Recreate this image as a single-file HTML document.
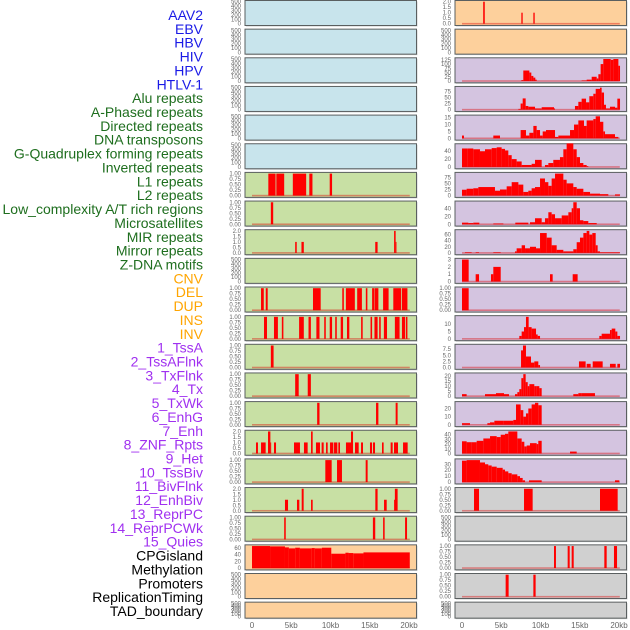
<!DOCTYPE html>
<html><head><meta charset="utf-8"><style>
html,body{margin:0;padding:0;background:#fff;}
svg{display:block;font-family:"Liberation Sans",sans-serif;}
</style></head><body>
<svg id="chart" width="630" height="630" viewBox="0 0 630 630"></svg>
<script>
// ---- track labels ----
const trackLabels = ["AAV2","EBV","HBV","HIV","HPV","HTLV-1","Alu repeats","A-Phased repeats","Directed repeats","DNA transposons","G-Quadruplex forming repeats","Inverted repeats","L1 repeats","L2 repeats","Low_complexity A/T rich regions","Microsatellites","MIR repeats","Mirror repeats","Z-DNA motifs","CNV","DEL","DUP","INS","INV","1_TssA","2_TssAFlnk","3_TxFlnk","4_Tx","5_TxWk","6_EnhG","7_Enh","8_ZNF_Rpts","9_Het","10_TssBiv","11_BivFlnk","12_EnhBiv","13_ReprPC","14_ReprPCWk","15_Quies","CPGisland","Methylation","Promoters","ReplicationTiming","TAD_boundary"];
const labelGroups = ["v","v","v","v","v","v","r","r","r","r","r","r","r","r","r","r","r","r","r","s","s","s","s","s","c","c","c","c","c","c","c","c","c","c","c","c","c","c","c","k","k","k","k","k"];
const xTickValues = [0,5,10,15,20];
const xTickLabels = ["0","5kb","10kb","15kb","20kb"];
const emptyTicks = [0,100,200,300,400,500];
const binTicks = [0,0.25,0.5,0.75,1];
const twoTicks = [0,0.5,1,1.5,2];

// left column data [startKb, endKb, value]
const L6 = [[2.08,3.0,1],[3.1,4.1,1],[5.2,6.9,1],[7.3,7.7,1],[9.9,10.2,1]];
const L7 = [[2.4,2.7,1]];
const L8 = [[5.5,5.7,1],[6.3,6.6,1],[15.7,16.0,1],[18.1,18.3,2],[18.3,18.4,1]];
const L10 = [[1.15,1.5,1],[1.75,2.0,1],[7.77,8.75,1],[11.5,11.7,1],[11.96,13.1,1],[13.4,14.0,1],[14.5,14.7,1],[15.3,15.55,1],[15.6,16.1,1],[16.7,17.4,1],[18.0,19.0,1],[19.1,19.8,1]];
const L11 = [[1.53,1.91,1],[2.8,3.3,1],[3.8,4.0,1],[6.0,6.6,1],[7.2,7.5,1],[8.2,8.6,1],[9.2,9.4,1],[9.9,10.2,1],[10.6,10.8,1],[11.3,11.6,1],[12.1,12.4,1],[13.9,14.1,1],[15.1,15.3,1],[15.6,16.0,1],[16.2,16.4,1],[16.8,17.2,1],[18.2,18.8,1],[19.1,19.5,1],[19.6,19.8,1]];
const L12 = [[2.4,2.75,1]];
const L13 = [[5.5,5.95,1],[7.1,7.5,1]];
const L14 = [[8.3,8.6,1],[15.8,16.1,1],[18.3,18.55,1]];
const L15 = [[0.51,0.76,1],[1.15,1.74,1],[2.04,2.34,2],[2.34,2.42,1],[2.8,3.06,1],[5.35,6.11,1],[6.62,7.09,1],[7.52,7.73,2],[8.15,8.66,1],[8.87,9.13,1],[9.43,9.64,1],[9.94,10.36,1],[10.45,10.87,1],[11.0,11.21,1],[11.97,12.61,1],[12.61,12.87,2],[13.12,13.59,1],[13.89,14.14,1],[15.03,15.29,1],[15.41,15.67,1],[16.56,16.77,1],[17.66,17.92,1],[18.09,18.6,1],[19.24,19.83,1]];
const L16 = [[9.34,10.15,1],[10.83,11.46,1],[14.48,14.73,1]];
const L17 = [[4.2,4.59,1],[5.73,6.03,1],[6.33,6.58,2],[7.52,7.73,1],[15.71,16.0,2],[16.82,17.16,1],[18.09,18.2,1],[18.2,18.55,2]];
const L18 = [[4.1,4.3,1],[15.4,15.7,1],[16.7,16.9,1],[19.5,19.75,1]];
const L19 = [[0,2.3,66],[2.3,4.2,65],[4.2,4.7,62],[4.7,5.5,59],[5.5,6.1,61],[6.1,7.6,59],[7.6,8.0,60],[8.0,8.9,59],[8.9,10.1,61],[10.1,11.9,43],[11.9,12.3,46],[12.3,12.9,45],[12.9,14.2,44],[14.2,20.1,47]];

// right column data
const R0 = [[2.7,2.9,2],[7.56,7.73,1],[9.09,9.26,1]];
const R2 = [[7.56,7.81,5],[7.81,8.58,62],[8.58,8.83,50],[8.83,9.09,30],[9.09,9.34,20],[9.34,9.51,8],[15.24,15.88,3],[15.88,16.52,8],[16.52,17.16,25],[17.16,17.37,15],[17.37,17.66,40],[17.66,18.0,100],[18.0,18.94,130],[18.94,19.28,125],[19.28,19.92,130],[19.92,20.13,90]];
const R3 = [[7.18,7.47,3],[7.47,7.73,25],[7.73,8.11,46],[8.11,8.45,15],[8.45,9.3,12],[9.3,10.15,5],[10.15,11.72,10],[11.72,11.85,5],[14.39,14.82,15],[14.82,15.24,32],[15.24,15.8,45],[15.8,16.22,30],[16.22,16.73,55],[16.73,17.03,65],[17.03,17.58,85],[17.58,17.79,90],[17.79,18.09,70],[18.09,18.34,20],[18.34,18.85,5],[18.85,19.49,12],[19.49,19.79,8],[19.79,20.13,45]];
const R4 = [[0,0.25,2],[3.99,4.84,2],[7.47,8.15,6],[8.15,8.58,2],[8.58,9.09,4],[9.09,9.51,9],[9.51,9.94,6],[9.94,10.28,2],[10.28,10.7,5],[10.7,11.85,6],[11.85,12.27,1],[12.27,13.76,2],[13.76,14.27,6],[14.27,14.82,10],[14.82,15.54,13],[15.54,15.88,9],[15.88,16.73,13],[16.73,17.03,14],[17.03,17.58,16],[17.58,18.0,12],[18.0,18.22,5],[18.22,19.49,3],[19.49,19.92,1]];
const R5 = [[0,0.68,47],[0.68,1.44,47],[1.44,2.29,45],[2.29,2.93,40],[2.93,3.78,45],[3.78,4.42,48],[4.42,5.05,50],[5.05,5.48,46],[5.48,5.9,42],[5.9,6.33,30],[6.33,6.96,20],[6.96,7.6,14],[7.6,8.87,5],[8.87,9.3,8],[9.3,10.15,18],[10.57,11.0,5],[11.0,11.63,10],[11.63,12.48,18],[12.48,12.91,25],[12.91,13.33,45],[13.33,14.18,60],[14.18,14.61,45],[14.61,15.03,25],[15.03,15.46,10],[15.46,15.88,5],[15.88,16.09,2]];
const R6 = [[0,0.59,24],[0.59,1.44,28],[1.44,2.08,30],[2.08,4.2,35],[4.2,4.84,20],[4.84,5.69,25],[5.69,6.33,38],[6.33,7.18,55],[7.18,7.81,45],[7.81,8.45,15],[8.45,8.87,20],[8.87,9.3,30],[9.3,9.94,35],[9.94,10.57,70],[10.57,11.0,55],[11.0,11.42,40],[11.42,11.85,70],[11.85,12.91,90],[12.91,13.33,65],[13.33,14.18,50],[14.18,14.61,35],[14.61,15.46,28],[15.46,16.31,15],[16.31,17.58,8],[17.58,18.64,6],[19.49,20.13,5]];
const R7 = [[0,0.81,4],[0.81,1.44,3],[1.44,2.21,4],[3.99,5.27,2],[6.79,8.45,4],[8.66,9.3,5],[9.3,10.15,15],[10.15,10.57,5],[10.57,11.0,15],[11.0,11.42,30],[11.42,11.85,25],[11.85,12.7,15],[12.7,13.55,22],[13.55,13.97,30],[13.97,14.18,40],[14.18,14.61,55],[14.61,15.03,40],[15.03,15.46,10],[15.46,16.09,8],[16.09,17.16,3]];
const R8 = [[0.38,1.23,2],[1.74,2.17,2],[3.99,4.93,2],[6.75,6.96,5],[6.96,7.6,15],[7.6,8.03,25],[8.03,8.66,15],[8.66,9.43,20],[9.43,9.94,15],[9.94,10.79,65],[10.79,11.42,50],[11.42,12.06,25],[12.06,12.91,10],[12.91,14.18,5],[14.18,14.61,12],[14.61,15.03,35],[15.03,15.46,50],[15.46,15.88,65],[15.88,16.22,72],[16.22,16.6,60],[16.6,17.03,65],[17.03,17.28,25],[17.28,17.58,5],[17.58,20.13,2]];
const R9 = [[0,0.85,3],[1.74,2.17,1],[3.69,3.99,1],[3.99,4.93,2],[11.21,11.55,1],[14.1,14.73,1]];
const R10 = [[0,0.85,1]];
const R11 = [[7.3,7.6,2],[7.6,7.9,5],[7.9,8.15,8],[8.15,8.49,15],[8.49,8.87,8],[8.87,9.43,7],[9.43,9.64,3],[9.64,9.94,2],[17.49,17.79,2],[17.79,18.85,3.5],[18.85,19.07,6],[19.07,19.53,7],[19.53,19.79,5],[19.79,20.13,2]];
const R12 = [[7.52,7.77,7],[7.77,8.15,9],[8.15,8.79,4.5],[8.79,9.21,2],[9.21,9.72,2.5],[9.72,9.94,1],[14.9,15.75,2.5],[15.88,16.39,1.5],[16.65,17.92,2.5],[18.85,19.58,1.5],[19.79,20.13,1.5]];
const R13 = [[0,0.59,2],[2.93,4.33,2],[4.33,5.35,3],[5.35,5.99,2],[6.75,7.05,2],[7.05,7.3,4],[7.3,7.56,7],[7.56,7.81,18],[7.81,8.11,22],[8.11,8.37,14],[8.37,8.58,10],[8.58,9.21,12],[9.21,9.51,10],[9.51,9.85,10],[9.85,10.15,8],[14.18,14.82,2],[14.82,15.24,3],[15.24,16.94,3]];
const R14 = [[0,1.02,2],[3.23,3.57,2],[3.57,4.12,3],[4.12,5.27,5],[5.27,6.54,5],[6.54,6.88,6],[6.88,7.47,25],[7.47,7.81,18],[7.81,8.15,10],[8.15,8.45,14],[8.45,8.87,20],[8.87,9.3,25],[9.3,9.72,27],[9.72,10.15,24]];
const R15 = [[0,0.59,26],[0.59,1.23,24],[1.23,1.87,24],[1.87,2.72,27],[2.72,3.57,32],[3.57,4.42,37],[4.42,4.93,35],[4.93,5.48,40],[5.48,5.9,42],[5.9,7.05,47],[7.05,7.6,32],[7.6,7.94,25],[7.94,8.24,15],[8.24,8.66,17],[8.66,9.51,22],[9.51,9.72,20],[9.72,10.15,27],[13.76,14.61,4]];
const R16 = [[0,0.59,36],[0.59,2.29,37],[2.29,2.93,33],[2.93,3.35,30],[3.35,3.78,28],[3.78,4.42,26],[4.42,5.18,24],[5.18,5.48,21],[5.48,5.9,18],[5.9,6.33,15],[6.33,7.05,13],[7.05,7.39,10],[7.39,7.73,7],[7.73,8.03,3],[8.54,10.15,3],[19.49,20.04,3]];
const R17 = [[1.53,2.17,1],[7.9,9.0,1],[17.58,19.83,1]];
const R19 = [[11.72,11.97,1],[13.46,13.72,1],[13.97,14.23,1],[18.13,18.43,1],[19.36,19.75,1]];
const R20 = [[5.56,5.94,1],[9.09,9.38,1]];

const NS = "http://www.w3.org/2000/svg";
const svg = document.getElementById("chart");
function el(tag, attrs, parent){const e=document.createElementNS(NS,tag);for(const k in attrs)e.setAttribute(k,attrs[k]);(parent||svg).appendChild(e);return e;}

const groupColor = {v:"#1a1ae6",r:"#1e6e1e",s:"#ffa500",c:"#a030f0",k:"#000000"};
trackLabels.forEach((t,i)=>{
  const tx = el("text",{x:203,y:15+13.86*i+5,"text-anchor":"end","font-size":14,fill:groupColor[labelGroups[i]]});
  tx.textContent=t;
  
  
});

const BLUE="#c8e4ec", GREEN="#c8e0a4", ORANGE="#fdd09c", PURPLE="#d4c4e0", GREY="#d0d0d0";
const leftPanels = [
 [null,BLUE],[null,BLUE],[null,BLUE],[null,BLUE],[null,BLUE],[null,BLUE],
 [L6,GREEN,binTicks,1],[L7,GREEN,binTicks,1],[L8,GREEN,twoTicks,2],[null,GREEN],[L10,GREEN,binTicks,1],[L11,GREEN,binTicks,1],
 [L12,GREEN,binTicks,1],[L13,GREEN,binTicks,1],[L14,GREEN,binTicks,1],[L15,GREEN,twoTicks,2],[L16,GREEN,binTicks,1],[L17,GREEN,twoTicks,2],[L18,GREEN,binTicks,1],
 [L19,ORANGE,[0,20,40,60],66],[null,ORANGE],[null,ORANGE]];
const rightPanels = [
 [R0,ORANGE,twoTicks,2],[null,ORANGE],
 [R2,PURPLE,[0,25,50,75,100,125],130],[R3,PURPLE,[0,25,50,75],90],[R4,PURPLE,[0,5,10,15],16],[R5,PURPLE,[0,20,40],56],
 [R6,PURPLE,[0,25,50,75],90],[R7,PURPLE,[0,20,40],55],[R8,PURPLE,[0,20,40,60],72],[R9,PURPLE,[0,1,2,3],3],[R10,PURPLE,binTicks,1],
 [R11,PURPLE,[0,5,10],15],[R12,PURPLE,[0,2.5,5,7.5],9],[R13,PURPLE,[0,5,10,15,20],22],[R14,PURPLE,[0,10,20],27],[R15,PURPLE,[0,10,20,30,40],47],[R16,PURPLE,[0,10,20,30],37],
 [R17,GREY,binTicks,1],[null,GREY],[R19,GREY,binTicks,1],[R20,GREY,binTicks,1],[null,GREY]];

function fmt(v,ticks){
  if(ticks===binTicks) return v.toFixed(2);
  if(ticks===twoTicks) return v.toFixed(1);
  if(ticks.some(t=>t%1!==0)) return v.toFixed(1);
  return String(v);
}

function drawPanel(p,i,px0,kb0){
  const T=0.5+28.65*i, H=(i===21?16:25);
  const yZero=T+H-1.8, yTop=T+1.2;
  const xs=kb=>kb0+7.85*kb;
  const data=p[0], ticks=p[2]||emptyTicks, ymax=p[3]||500;
  const ys=v=>yZero-(yZero-yTop)*v/ymax;
  const g=el("g",{});
  
  
  el("rect",{x:px0+1,y:T+1,width:171.5,height:H,fill:"#9aa0a0",opacity:0.5},g);
  const bg=el("rect",{x:px0,y:T,width:171.5,height:H,fill:p[1],stroke:"#5a5f60","stroke-width":1},g);
  
  
  ticks.forEach(t=>{
    const tt=el("text",{x:px0-4,y:ys(t)+2,"text-anchor":"end","font-size":6,fill:"#666"},g);
    tt.textContent=fmt(t,ticks);
    
    
  });
  if(data){
    data.forEach(s=>{
      const r=el("rect",{x:xs(s[0]),y:ys(s[2]),width:Math.max(0.8,xs(s[1])-xs(s[0])),height:yZero-ys(s[2]),fill:"#ff0000"},g);
      
      
    });
    const b=el("rect",{x:xs(0),y:yZero-0.8,width:xs(20.1)-xs(0),height:1.6,fill:"rgba(220,0,0,0.4)"},g);
    
    
  }
}
leftPanels.forEach((p,i)=>drawPanel(p,i,245,252));
rightPanels.forEach((p,i)=>drawPanel(p,i,455,462));

[252,462].forEach(x0=>{
  xTickValues.forEach((v,j)=>{
    const t=el("text",{x:x0+7.85*v,y:628,"text-anchor":"middle","font-size":8,fill:"#666"});
    t.textContent=xTickLabels[j];
    
    
  });
});
</script>
</body></html>
